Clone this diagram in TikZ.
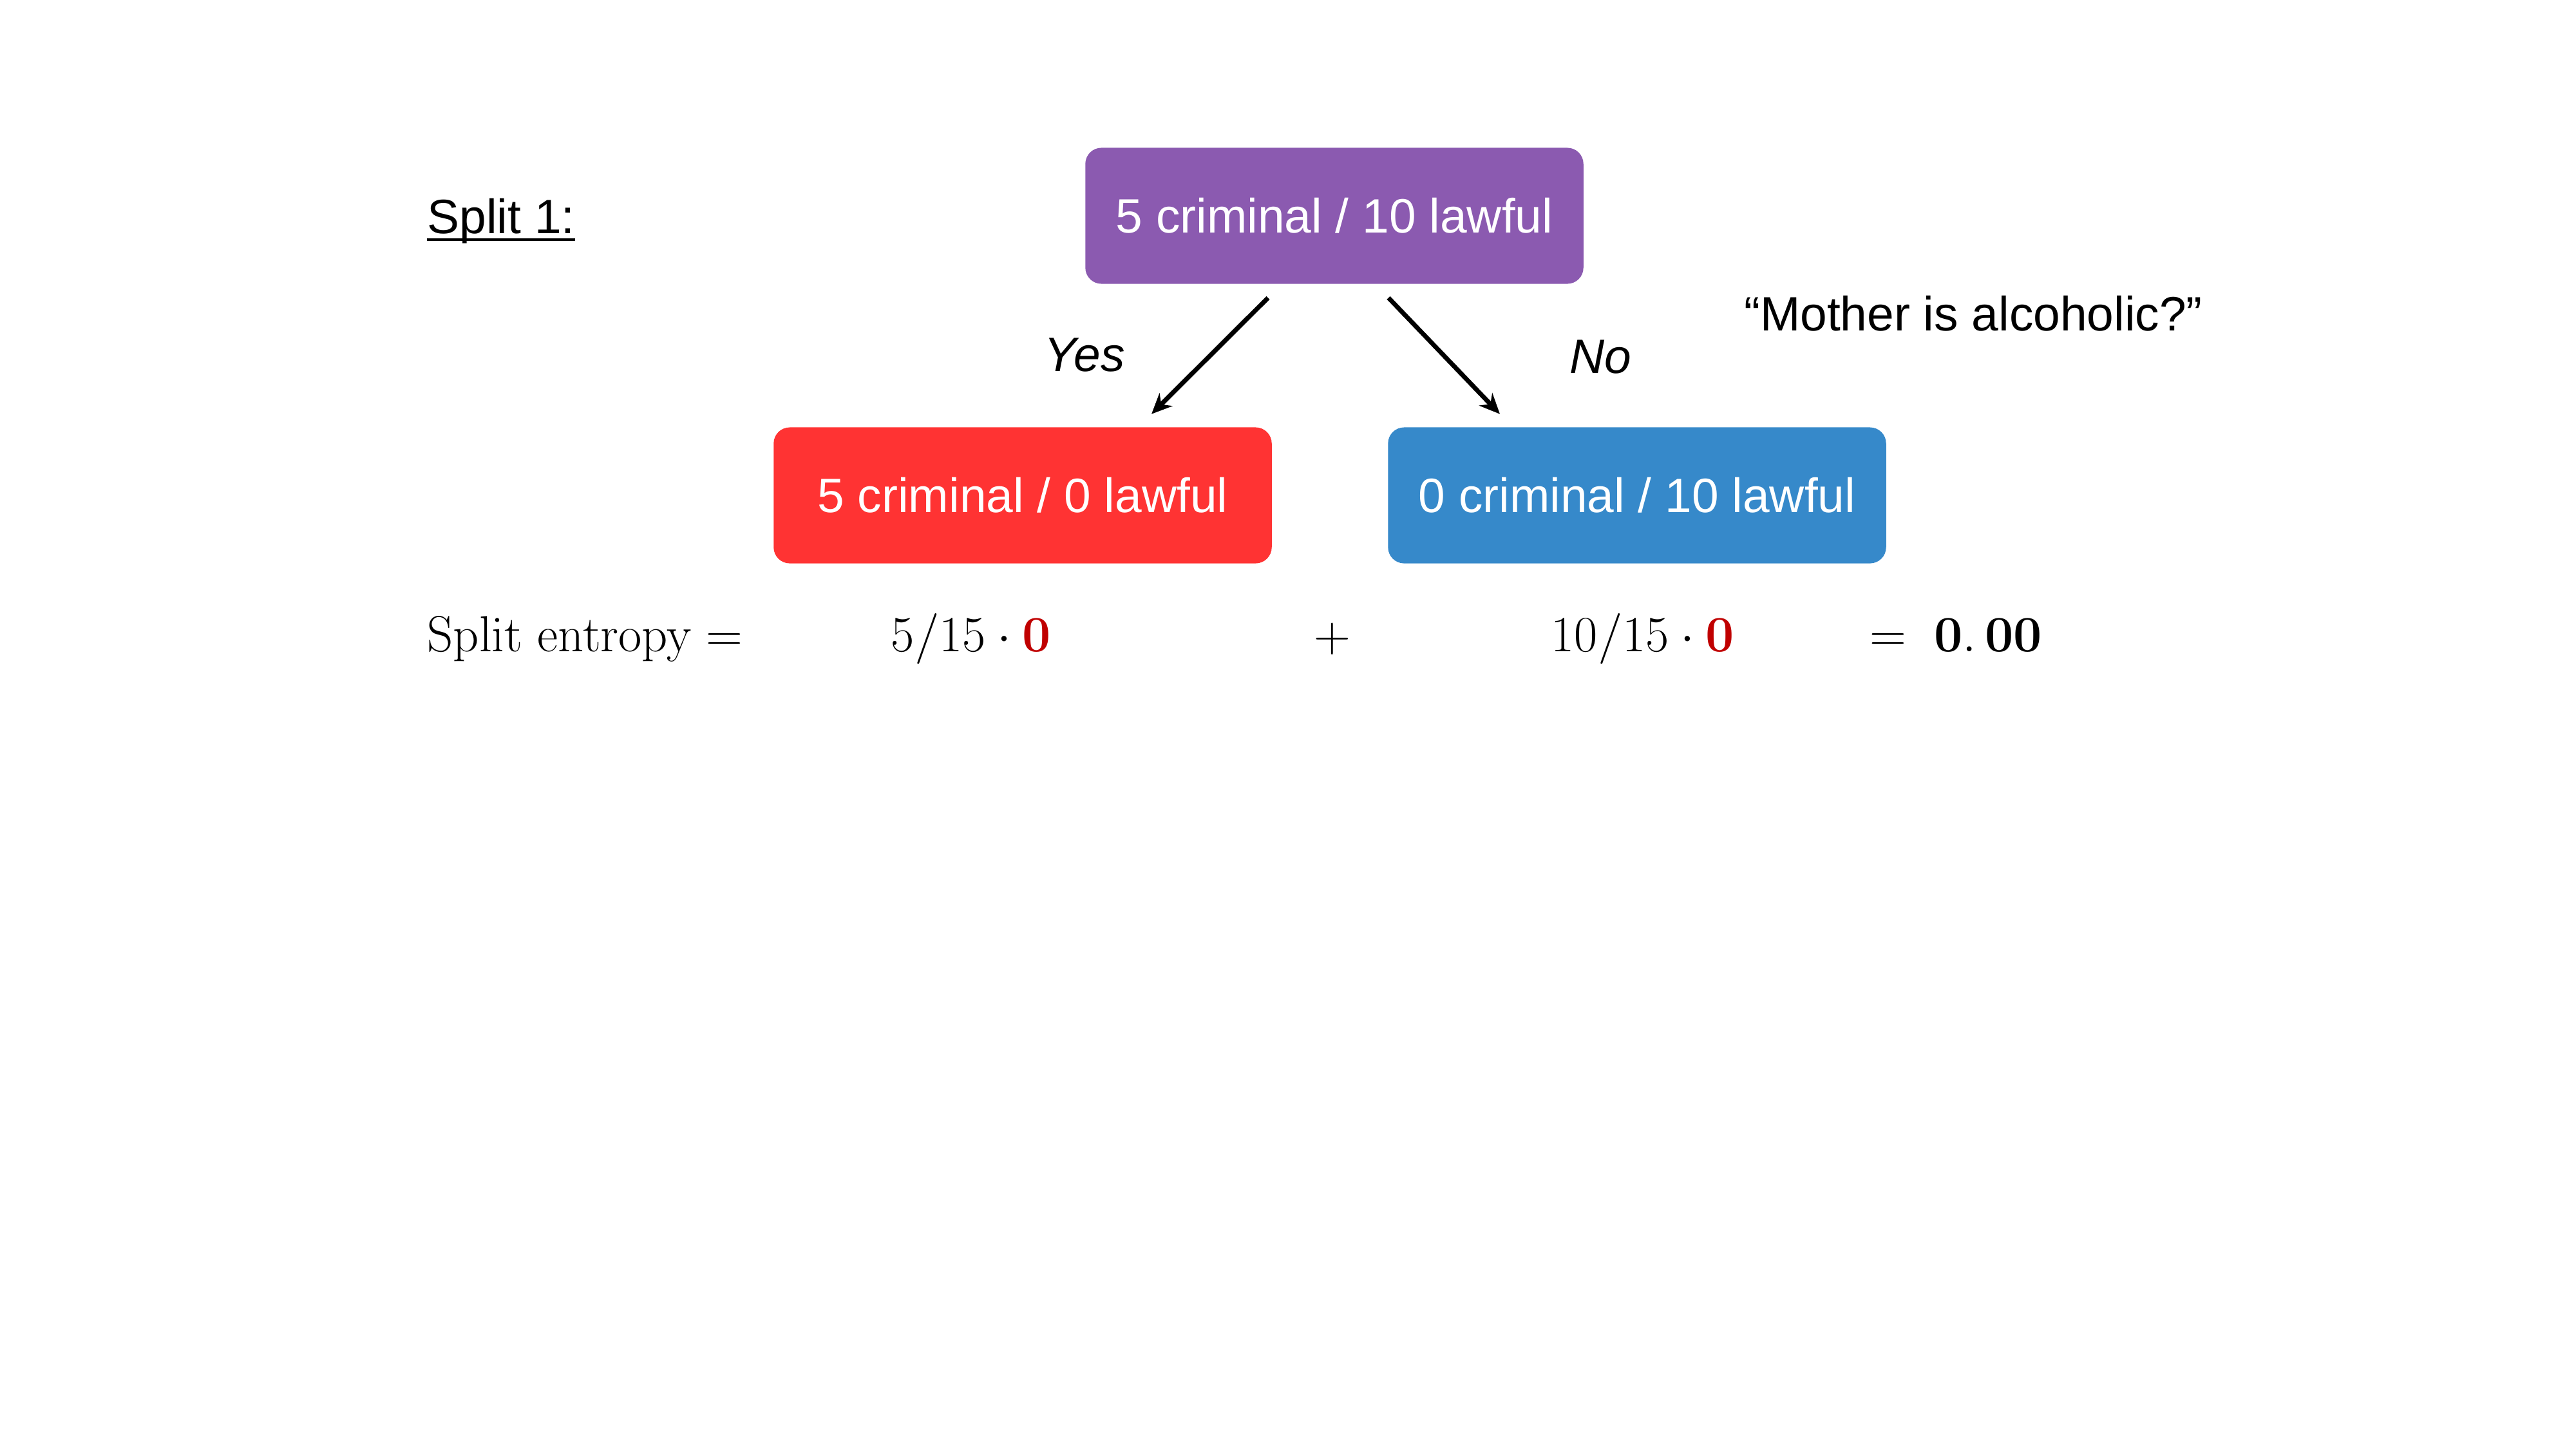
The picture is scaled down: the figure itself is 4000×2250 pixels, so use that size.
\documentclass[tikz,border=0pt]{standalone}
\usepackage{fix-cm}
\usepackage{amsmath}
\usepackage[no-math]{fontspec}
\setmainfont{Liberation Sans}
\usetikzlibrary{arrows.meta,calc}
\definecolor{boxpurple}{RGB}{139,90,176}
\definecolor{boxred}{RGB}{255,51,51}
\definecolor{boxblue}{RGB}{54,137,202}
\definecolor{zerored}{RGB}{192,0,0}
\newfontfamily\mathrowfont{Latin Modern Roman}
\begin{document}
\begin{tikzpicture}[x=0.01cm,y=-0.01cm,
  every node/.style={font=\fontsize{21.3}{26}\selectfont},
  treebox/.style={rounded corners=0.25cm, minimum width=7.73cm, minimum height=2.11cm, text=white, inner sep=0pt},
  conn/.style={line width=2pt, -{Stealth[length=9pt,width=8pt]}},
  branch/.style={font=\fontsize{21.3}{26}\selectfont\itshape},
  mathrow/.style={anchor=base, inner sep=0pt, font=\mathrowfont\fontsize{22.4}{28}\selectfont}]
\useasboundingbox (0,0) rectangle (4000,2250);
% title
\node[anchor=base west, inner sep=0pt] (s1) at (663,362) {Split 1:};
\draw[line width=1.4pt] ($(s1.base west)+(0,10)$) -- ($(s1.base east)+(0,10)$);
% boxes
\node[treebox, fill=boxpurple] (top) at (2072,335) {5 criminal / 10 lawful};
\node[treebox, fill=boxred] (left) at (1588,769) {5 criminal / 0 lawful};
\node[treebox, fill=boxblue] (right) at (2542,769) {0 criminal / 10 lawful};
% arrows
\draw[conn] ($(top.south)+(-103,21)$) -- ($(left.north)+(200,-20)$);
\draw[conn] ($(top.south)+(84,21)$) -- ($(right.north)+(-213,-20)$);
\node[branch] (yes) at (1684,551) {Yes};
\node[branch] (no) at (2485,554) {No};
\node (q) at (3064,487) {“Mother is alcoholic?”};
% entropy row
\node[mathrow, anchor=base west] (se) at (663,1011) {$\mathrm{Split\ entropy} =$};
\node[mathrow] (t1) at (1508,1011) {$5/15\cdot\textcolor{zerored}{\mathbf{0}}$};
\node[mathrow] (plus) at (2069,1011) {$+$};
\node[mathrow] (t2) at (2551,1011) {$10/15\cdot\textcolor{zerored}{\mathbf{0}}$};
\node[mathrow] (res) at (3037,1011) {$=\;\mathbf{0.\,00}$};
\end{tikzpicture}
\end{document}
